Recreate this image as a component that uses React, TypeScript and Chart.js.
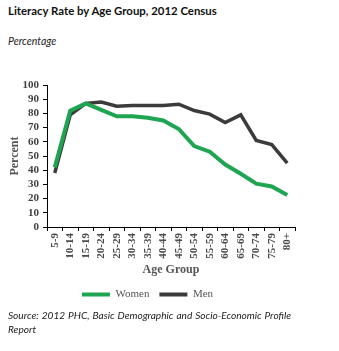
import React, { useEffect, useRef } from "react";
import { Chart, registerables } from "chart.js";

Chart.register(...registerables);

const ageGroups = [
  "5-9", "10-14", "15-19", "20-24", "25-29", "30-34", "35-39", "40-44",
  "45-49", "50-54", "55-59", "60-64", "65-69", "70-74", "75-79", "80+",
];
const women = [42, 82, 87, 82.5, 78, 78, 77, 75, 69, 57, 53, 44, 37.5, 30.5, 28.5, 22.5];
const men = [38, 79, 87, 88, 85, 85.5, 85.5, 85.5, 86.5, 82, 79.5, 73.5, 79, 61, 58, 45];
const yTicks = [0, 10, 20, 30, 40, 50, 60, 70, 80, 90, 100];

const SERIF = "'Liberation Serif', 'Times New Roman', serif";
const SANS = "Lato, 'Open Sans', sans-serif";

export default function App() {
  const canvasRef = useRef<HTMLCanvasElement | null>(null);

  useEffect(() => {
    const canvas = canvasRef.current;
    if (!canvas) return;
    const chart = new Chart(canvas, {
      type: "line",
      data: {
        labels: ageGroups,
        datasets: [
          {
            label: "Women",
            data: women,
            borderColor: "#1fa551",
            backgroundColor: "#1fa551",
            borderWidth: 4,
            pointRadius: 0,
            tension: 0,
          },
          {
            label: "Men",
            data: men,
            borderColor: "#3b3b3b",
            backgroundColor: "#3b3b3b",
            borderWidth: 3.5,
            pointRadius: 0,
            tension: 0,
          },
        ],
      },
      options: {
        animation: false,
        responsive: false,
        maintainAspectRatio: false,
        layout: { padding: { top: 15, right: 44, left: 0, bottom: 0 } },
        plugins: {
          tooltip: { enabled: false },
          legend: {
            position: "bottom",
            labels: {
              boxWidth: 28,
              boxHeight: 4,
              padding: 10,
              color: "#555555",
              font: { family: SERIF, size: 11 },
              generateLabels: (c: any) =>
                c.data.datasets.map((ds: any, i: number) => ({
                  text: ds.label,
                  fillStyle: ds.borderColor,
                  strokeStyle: ds.borderColor,
                  lineWidth: 0,
                  hidden: false,
                  datasetIndex: i,
                  fontColor: "#555555",
                })),
            },
          },
        },
        scales: {
          x: {
            offset: true,
            grid: {
              offset: true,
              drawOnChartArea: false,
              drawTicks: true,
              tickLength: 4,
              color: "#000000",
            },
            border: { display: true, color: "#000000", width: 1 },
            ticks: {
              autoSkip: false,
              minRotation: 90,
              maxRotation: 90,
              padding: 2,
              color: "#4a4a4a",
              font: { family: SERIF, size: 11, weight: "bold" },
            },
            title: {
              display: true,
              text: "Age Group",
              color: "#555555",
              font: { family: SERIF, size: 12, weight: "bold" },
              padding: { top: 2, bottom: 2 },
            },
            afterFit: (scale: any) => {
              scale.height = 52;
            },
          },
          y: {
            min: 0,
            max: 100,
            afterBuildTicks: (scale: any) => {
              scale.ticks = yTicks.map((v) => ({ value: v }));
            },
            grid: {
              drawOnChartArea: false,
              drawTicks: true,
              tickLength: 4,
              color: "#000000",
            },
            border: { display: true, color: "#000000", width: 1 },
            ticks: {
              autoSkip: false,
              stepSize: 10,
              padding: 4,
              color: "#404040",
              font: { family: SERIF, size: 11, weight: "bold" },
            },
            title: {
              display: true,
              text: "Percent",
              color: "#555555",
              font: { family: SERIF, size: 12, weight: "bold" },
              padding: { top: 8, bottom: 2 },
            },
            afterFit: (scale: any) => {
              scale.width = 47;
            },
          },
        },
      },
    });
    return () => chart.destroy();
  }, []);

  return (
    <div
      style={{
        position: "absolute",
        left: 0,
        top: 0,
        width: 339,
        height: 351,
        background: "#ffffff",
        overflow: "hidden",
      }}
    >
      <div
        style={{
          position: "absolute",
          left: 8,
          top: 4,
          fontFamily: SANS,
          fontWeight: 700,
          fontSize: 11.4,
          color: "#111111",
          whiteSpace: "nowrap",
        }}
      >
        Literacy Rate by Age Group, 2012 Census
      </div>
      <div
        style={{
          position: "absolute",
          left: 8,
          top: 35,
          fontFamily: SANS,
          fontStyle: "italic",
          fontSize: 10.5,
          color: "#222222",
          whiteSpace: "nowrap",
        }}
      >
        Percentage
      </div>
      <canvas
        ref={canvasRef}
        width={339}
        height={240}
        style={{ position: "absolute", left: 0, top: 70, width: 339, height: 240 }}
      />
      <div
        style={{
          position: "absolute",
          left: 8,
          top: 308,
          width: 283,
          fontFamily: SANS,
          fontStyle: "italic",
          fontSize: 10.1,
          lineHeight: "14px",
          color: "#222222",
        }}
      >
        <div style={{ textAlign: "justify", textAlignLast: "justify" }}>
          Source: 2012 PHC, Basic Demographic and Socio-Economic Profile
        </div>
        <div>Report</div>
      </div>
    </div>
  );
}
